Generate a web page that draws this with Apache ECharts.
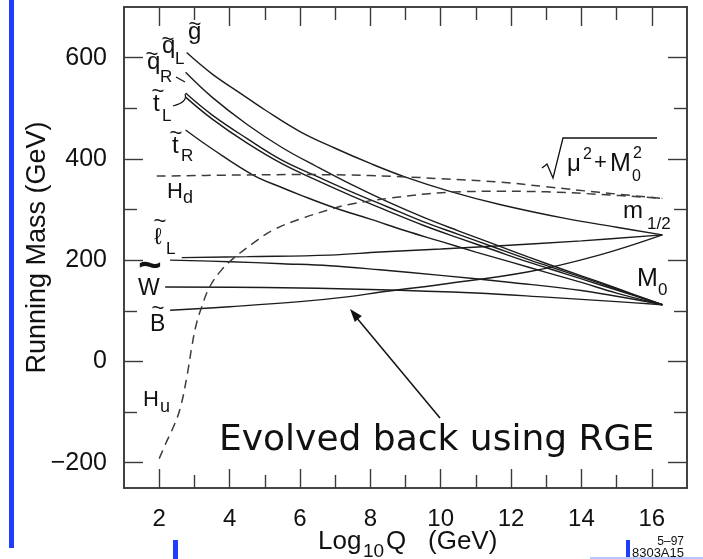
<!DOCTYPE html>
<html><head><meta charset="utf-8">
<script src="https://cdn.jsdelivr.net/npm/echarts@6/dist/echarts.min.js"></script>
<style>html,body{margin:0;padding:0;background:#fff}#c{width:703px;height:559px}</style>
</head><body><div id="c"></div>
<script>
// ---- tick values ----
const xMajorTicks = [2, 4, 6, 8, 10, 12, 14, 16];
const xMinorTicks = [3, 5, 7, 9, 11, 13, 15];
const yMajorTicks = [-200, 0, 200, 400, 600];
const yMinorTicks = [-100, 100, 300, 500];

// ---- running masses: [log10 Q, mass (GeV)] ----
const gluino   = [[2.78,610],[3.5,568],[4.3,530],[5.0,497],[6.0,454],[7.0,421],[8.0,391],[9.0,364],[10.26,336],[11.68,310],[13.5,283],[15.0,265],[16.3,250]];
const squarkL  = [[2.75,571],[3.5,522],[4.5,468],[5.5,422],[6.5,384],[7.5,348],[8.5,315],[9.5,285],[10.5,258],[11.5,232],[12.5,206],[13.5,181],[14.5,157],[15.5,132],[16.3,112]];
const squarkR  = [[2.75,530],[3.5,487],[4.5,440],[5.5,397],[6.5,365],[7.5,334],[8.5,305],[9.5,276],[10.5,251],[11.5,226],[12.5,201],[13.5,178],[14.5,155],[15.5,131],[16.3,112]];
const stopL    = [[2.75,522],[3.5,479],[4.5,431],[5.5,390],[6.5,357],[7.5,326],[8.5,297],[9.5,269],[10.5,244],[11.5,220],[12.5,196],[13.5,174],[14.5,152],[15.5,130],[16.3,112]];
const stopR    = [[2.75,457],[3.5,420],[4.67,368],[5.5,343],[6.0,329],[7.0,303],[8.0,281],[9.0,258],[10,237],[11,216],[12,196],[13,176],[14,156],[15,135],[16.3,112]];
const higgsD   = [[1.93,366],[4,368],[6,369],[8,367],[10,361],[11.7,354],[13,345],[14.5,334],[16.3,322]];
const higgsU   = [[2.0,-192],[2.2,-160],[2.4,-130],[2.6,-92],[2.8,-25],[2.93,30],[3.05,72],[3.21,108],[3.44,148],[3.8,183],[4.1,203],[4.7,235],[5.25,260],[6.0,281],[6.85,300],[7.4,310],[8.5,322],[10.2,334],[11.7,336],[13,335],[14.5,330],[16.3,322]];
const wino     = [[2.64,205],[4.5,207],[6.85,210],[8.27,216],[10,222],[11.59,228],[14,238],[16.3,250]];
const sleptonL = [[2.31,200],[4,197],[5.5,193],[6.85,189],[8.27,181],[10,170],[12,156],[14,140],[16.3,112]];
const sleptonR = [[2.17,147],[5,146],[8,142],[11,135],[13,127],[15,118],[16.3,112]];
const bino     = [[2.31,101],[4,108],[6,118],[7.4,128],[8.3,137],[10,152],[12.5,177],[14.5,210],[16.3,250]];

const solidSeries = [gluino, squarkL, squarkR, stopL, stopR, wino, sleptonL, sleptonR, bino];
const dashedSeries = [higgsD, higgsU];

const FONT = '"Liberation Sans", Arial, sans-serif';
const INK = '#111';
const AX = '#3a3a3a';

function txt(s, x, base, size, opt) {
  opt = opt || {};
  return {
    type: 'text', x: x, y: base - 0.35 * size, silent: true, rotation: opt.rot || 0,
    style: {
      text: s, fontSize: size, fontFamily: opt.ff || FONT, fontWeight: opt.fw || 'normal',
      fill: opt.c || INK, textAlign: opt.align || 'left', align: opt.align || 'left',
      textVerticalAlign: 'middle', verticalAlign: 'middle'
    }
  };
}
function tilde(cx, cy, size, fw) {
  return {
    type: 'text', x: cx, y: cy, silent: true,
    style: { text: '~', fontSize: size, fontFamily: FONT, fontWeight: fw || 'normal', fill: INK,
      textAlign: 'center', align: 'center', textVerticalAlign: 'middle', verticalAlign: 'middle' }
  };
}

const axisBase = (pos, ticks, len, labels) => ({
  type: 'value', position: pos,
  min: pos === 'left' || pos === 'right' ? -250 : 1,
  max: pos === 'left' || pos === 'right' ? 700 : 17,
  axisLine: { show: true, onZero: false, lineStyle: { color: AX, width: 1.6 } },
  axisTick: { show: true, inside: true, length: len, customValues: ticks, lineStyle: { color: AX, width: 1.4 } },
  axisLabel: labels ? labels : { show: false },
  splitLine: { show: false }
});

const option = {
  backgroundColor: '#ffffff',
  animation: false,
  grid: { left: 124, right: 16, top: 7, bottom: 71, containLabel: false },
  xAxis: [
    axisBase('bottom', xMajorTicks, 19, { show: true, customValues: xMajorTicks, fontSize: 24, fontFamily: FONT, color: INK, margin: 19 }),
    axisBase('bottom', xMinorTicks, 13),
    axisBase('top', xMajorTicks, 19),
    axisBase('top', xMinorTicks, 13)
  ],
  yAxis: [
    Object.assign(axisBase('left', yMajorTicks, 19, { show: true, customValues: yMajorTicks, fontSize: 25, fontFamily: FONT, color: INK, margin: 17,
      formatter: v => (v < 0 ? '\u2212' + Math.abs(v) : String(v)) }),
      { name: 'Running Mass (GeV)', nameLocation: 'middle', nameGap: 73, nameMoveOverlap: false,
        nameTextStyle: { fontSize: 27, fontFamily: FONT, color: INK } }),
    axisBase('left', yMinorTicks, 13),
    axisBase('right', yMajorTicks, 19),
    axisBase('right', yMinorTicks, 13)
  ],
  series: [].concat(
    solidSeries.map(d => ({ type: 'line', data: d, smooth: 0.4, showSymbol: false, silent: true,
      lineStyle: { color: '#1c1c1c', width: 1.4 } })),
    dashedSeries.map(d => ({ type: 'line', data: d, smooth: 0.4, showSymbol: false, silent: true,
      lineStyle: { color: '#3c3c3c', width: 1.5, type: [9, 6] } }))
  ),
  graphic: [
    // slide decorations
    { type: 'rect', shape: { x: 9, y: 0, width: 5, height: 548 }, style: { fill: '#1f3cff' }, silent: true },
    { type: 'rect', shape: { x: 173, y: 540, width: 5, height: 19 }, style: { fill: '#1f3cff' }, silent: true },
    { type: 'rect', shape: { x: 626, y: 540, width: 4, height: 19 }, style: { fill: '#1f3cff' }, silent: true },
    { type: 'line', shape: { x1: 590, y1: 558, x2: 703, y2: 558 }, style: { stroke: '#b4c8ff', lineWidth: 2 }, silent: true },

    // x-axis title
    txt('Log', 318, 551, 26),
    txt('10', 363, 558, 19),
    txt('Q', 386, 551, 26),
    txt('(GeV)', 428, 551, 26),
    txt('5\u201397', 684, 546, 12, { align: 'right' }),
    txt('8303A15', 684, 558, 13, { align: 'right' }),

    // curve labels
    tilde(195, 25, 22), txt('g', 188, 41, 24),
    tilde(168, 40, 22), txt('q', 162, 55, 24), txt('L', 175, 65, 17),
    tilde(152, 55, 22), txt('q', 147, 71, 24), txt('R', 160, 83, 17),
    { type: 'line', shape: { x1: 176, y1: 77, x2: 185, y2: 82 }, style: { stroke: INK, lineWidth: 1.2 }, silent: true },
    tilde(158, 92, 22), txt('t', 153, 113, 24), txt('L', 162, 122, 17),
    { type: 'bezierCurve', shape: { x1: 185, y1: 94, cpx1: 188, cpy1: 102, x2: 173, y2: 106 }, style: { stroke: INK, lineWidth: 1.2, fill: 'none' }, silent: true },
    tilde(176, 134, 22), txt('t', 172, 155, 24), txt('R', 181, 162, 17),
    txt('H', 167, 200, 22), txt('d', 183, 204, 18),
    tilde(160, 222, 22), txt('\u2113', 154, 246, 23), txt('L', 166, 255, 17),
    tilde(150, 267, 40, 'bold'), txt('W', 138, 297, 23),
    tilde(158, 309, 22), txt('B', 150, 333, 23),
    txt('H', 143, 408, 22), txt('u', 160, 413, 18),

    // sqrt(mu^2 + M0^2)
    { type: 'polyline', shape: { points: [[542, 168], [547, 164], [553, 178], [563, 138], [657, 138]] }, style: { stroke: INK, lineWidth: 1.3, fill: 'none' }, silent: true },
    txt('\u03bc', 567, 173, 24), txt('2', 583, 160, 16), txt('+', 594, 171, 22),
    txt('M', 610, 173, 25), txt('2', 633, 159, 16), txt('0', 632, 182, 16),
    txt('m', 623, 220, 24), txt('1/2', 647, 230, 17),
    txt('M', 637, 288, 25), txt('0', 658, 296, 17),

    // annotation
    txt('Evolved back using RGE', 219, 453, 36, { ff: '"DejaVu Sans", sans-serif' }),
    { type: 'line', shape: { x1: 440, y1: 418, x2: 356, y2: 317 }, style: { stroke: INK, lineWidth: 1.5 }, silent: true },
    { type: 'polygon', shape: { points: [[350, 309], [361.8, 316.1], [354.8, 321.9]] }, style: { fill: INK }, silent: true }
  ]
};

const chart = echarts.init(document.getElementById('c'), null, { renderer: 'canvas' });
chart.setOption(option);
</script>
</body></html>
